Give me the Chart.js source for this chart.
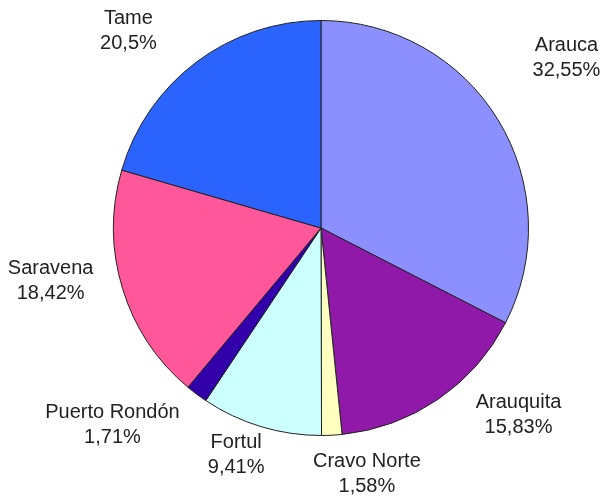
<!DOCTYPE html>
<html>
<head>
<meta charset="utf-8">
<script src="https://cdn.jsdelivr.net/npm/chart.js@4"></script>
<style>
html,body{margin:0;padding:0;background:#fff;}
#wrap{width:606px;height:500px;}
</style>
</head>
<body>
<div id="wrap"><canvas id="c" width="606" height="500"></canvas></div>
<script>
const categories = ["Arauca", "Arauquita", "Cravo Norte", "Fortul", "Puerto Rondón", "Saravena", "Tame"];
const values = [32.55, 15.83, 1.58, 9.41, 1.71, 18.42, 20.5];
const valueLabels = ["32,55%", "15,83%", "1,58%", "9,41%", "1,71%", "18,42%", "20,5%"];
const colors = ["#8C90FF", "#9019AA", "#FFFFC0", "#CCFFFF", "#3100AA", "#FF5799", "#2B63FF"];

// label anchor offsets relative to pie center, in units of radius
const labelOffsets = [[1.183,-0.822],[0.952,0.899],[0.221,1.183],[-0.409,1.091],[-1.005,0.947],[-1.303,0.255],[-0.928,-0.952]];

const labelPlugin = {
  id: 'outLabels',
  afterDraw(chart) {
    const ctx = chart.ctx;
    const meta = chart.getDatasetMeta(0);
    ctx.save();
    ctx.fillStyle = '#222';
    ctx.font = '20px "Liberation Sans", Arial, sans-serif';
    ctx.textAlign = 'center';
    ctx.textBaseline = 'middle';
    meta.data.forEach((arc, i) => {
      const r = arc.outerRadius;
      const x = arc.x + labelOffsets[i][0] * r;
      const y = arc.y + labelOffsets[i][1] * r;
      ctx.fillText(categories[i], x, y - 12);
      ctx.fillText(valueLabels[i], x, y + 13);
    });
    ctx.restore();
  }
};

new Chart(document.getElementById('c'), {
  type: 'pie',
  data: {
    labels: categories,
    datasets: [{
      data: values,
      backgroundColor: colors,
      borderColor: '#222',
      borderWidth: 1
    }]
  },
  options: {
    responsive: false,
    animation: false,
    layout: { padding: { left: 113, right: 77, top: 20, bottom: 64 } },
    plugins: { legend: { display: false }, tooltip: { enabled: false } }
  },
  plugins: [labelPlugin]
});
</script>
</body>
</html>
